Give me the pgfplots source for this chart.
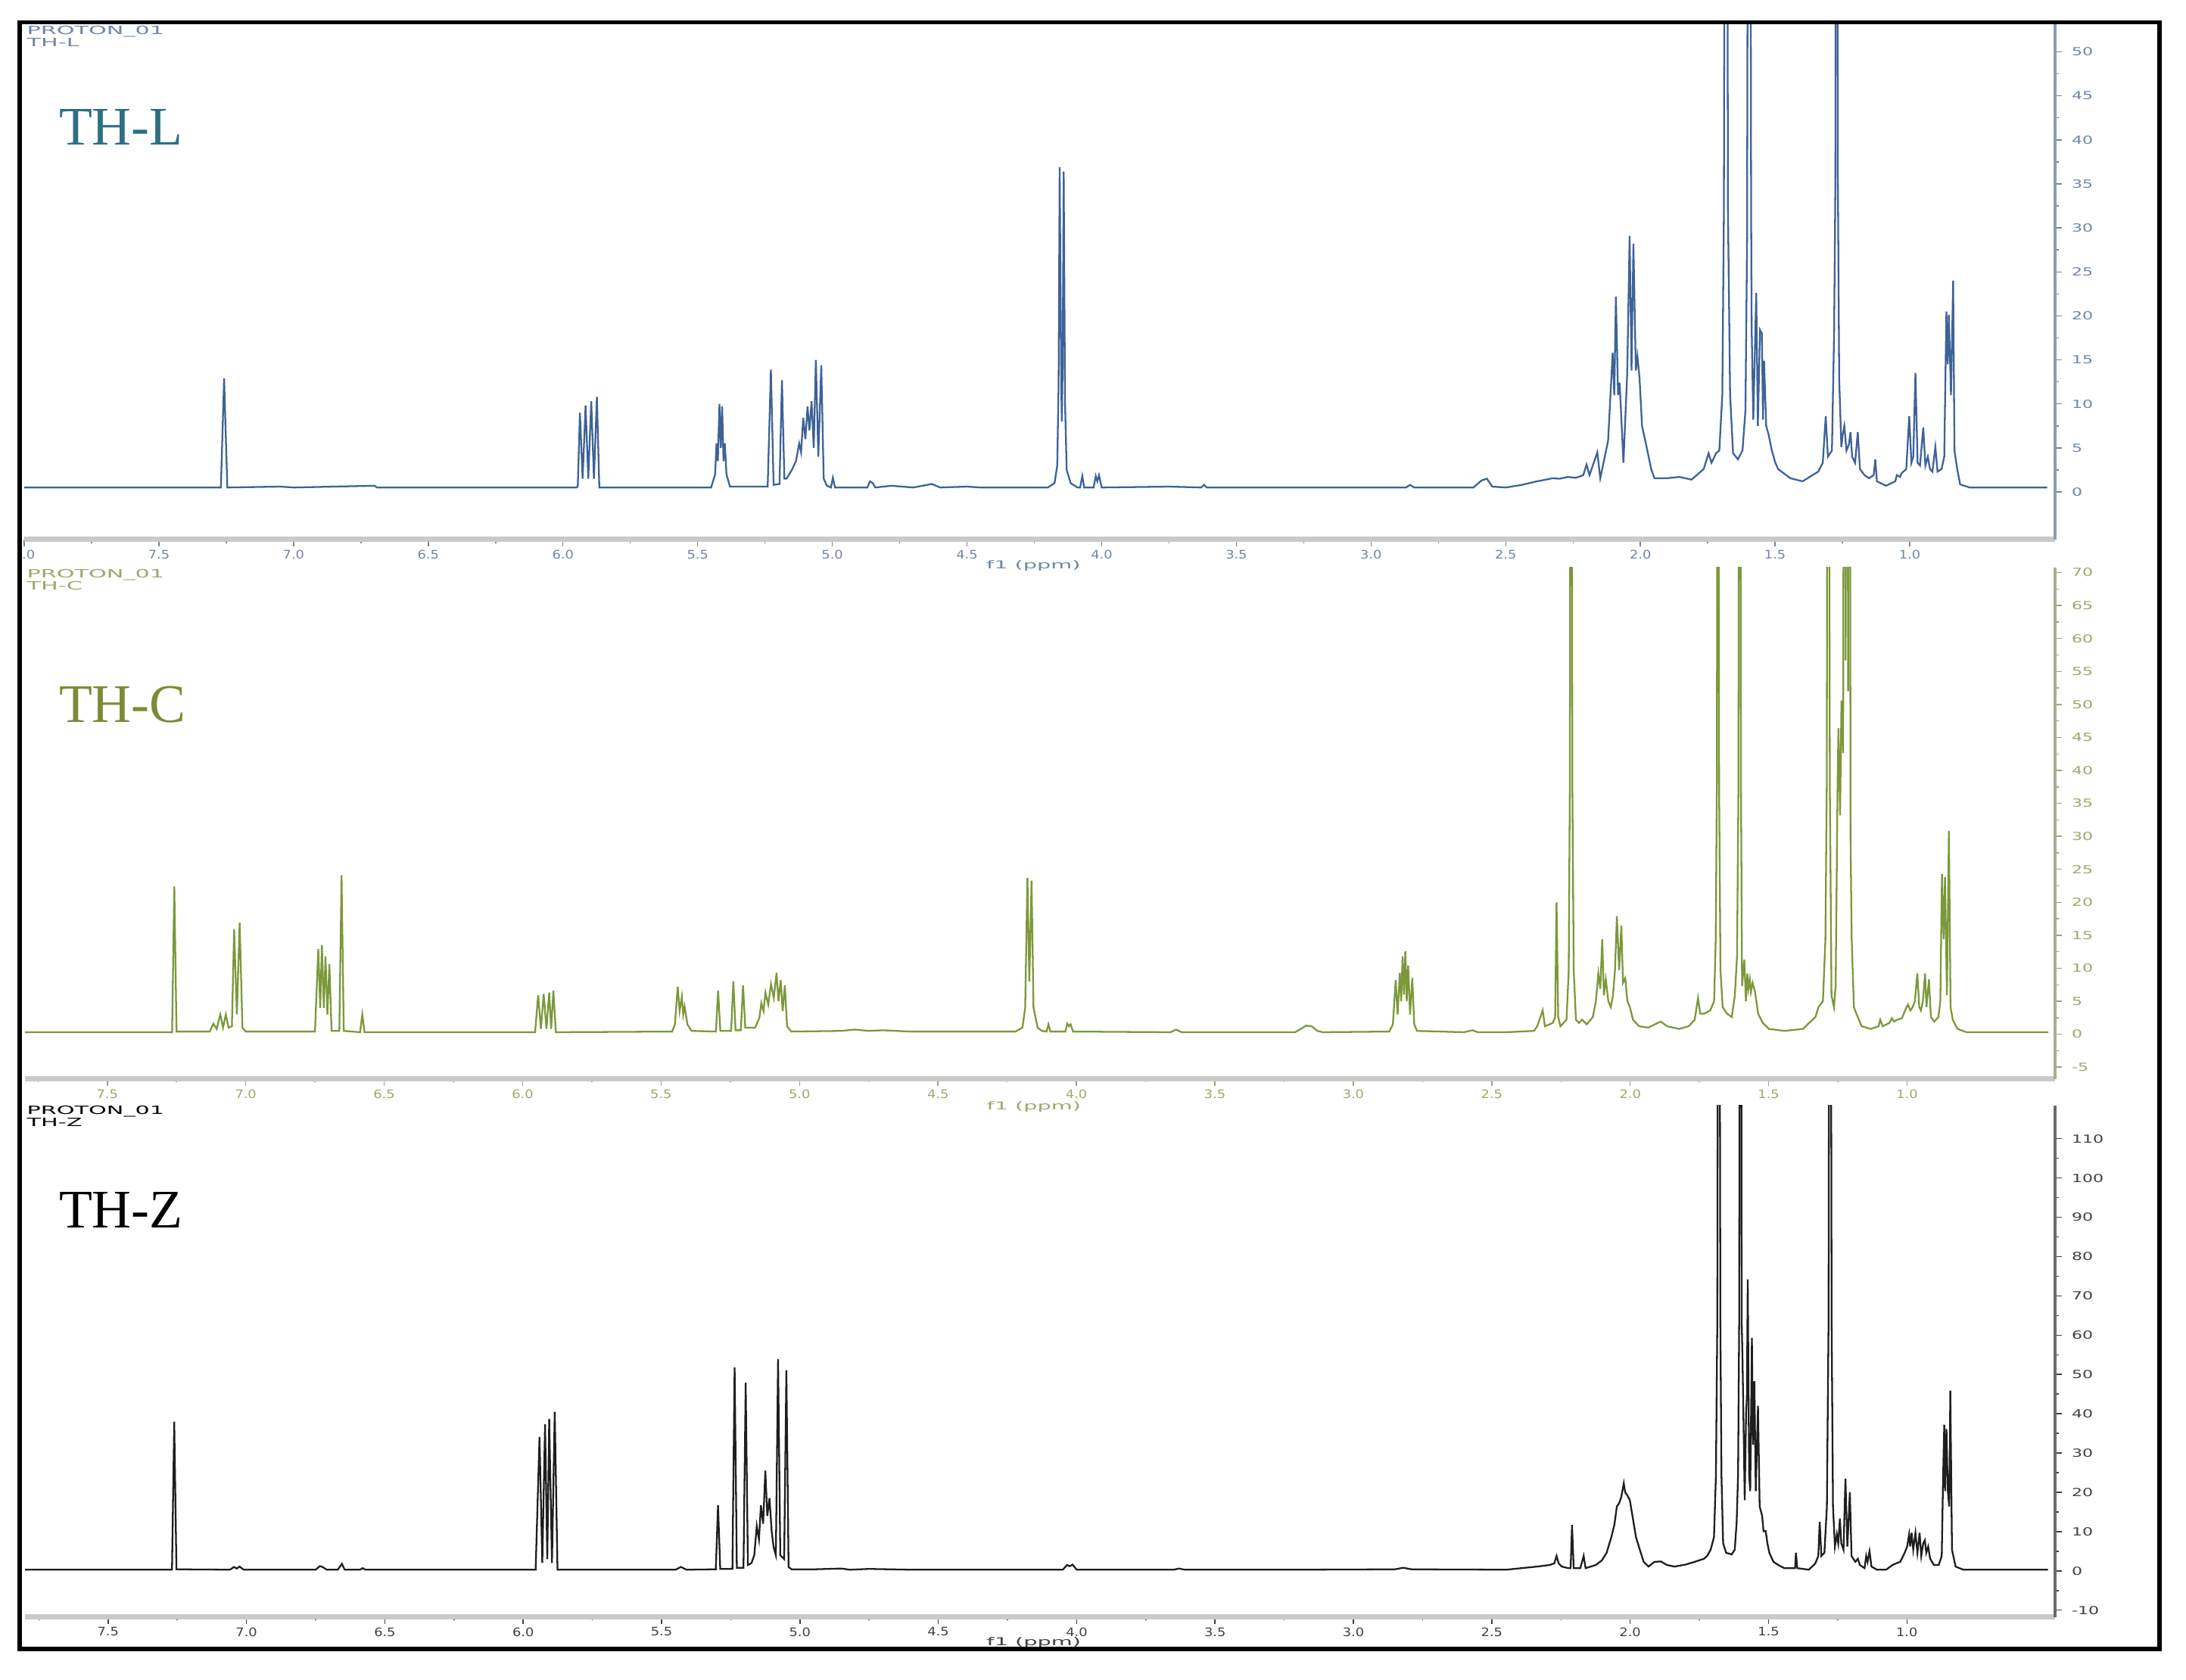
\documentclass[border=0pt]{standalone}
\usepackage{fontspec}
\usepackage{pgfplots}
\pgfplotsset{compat=1.18}
\setmainfont{Liberation Serif}
\newfontfamily\xfont[FakeStretch=1.15]{DejaVu Sans}
\newfontfamily\yfont[FakeStretch=1.5]{DejaVu Sans}
\newfontfamily\hdrfont[FakeStretch=2.0]{DejaVu Sans}

\definecolor{specL}{HTML}{3E6298}
\definecolor{specC}{HTML}{7C983A}
\definecolor{specZ}{HTML}{1E1E1E}
\definecolor{nameL}{HTML}{2D6F85}
\definecolor{nameC}{HTML}{7A8C35}
\definecolor{tickL}{HTML}{6F86A4}
\definecolor{tickC}{HTML}{9EA66E}
\definecolor{tickZ}{HTML}{404040}
\definecolor{axL}{HTML}{8C9CB0}
\definecolor{axC}{HTML}{A9AE94}
\definecolor{axZ}{HTML}{6A6A6A}
\definecolor{xline}{HTML}{CACACA}

\tikzset{ppmlabel/.style={font=\hdrfont\fontsize{3.9}{4.5}\selectfont, anchor=north}}
\pgfplotsset{
  nmr/.style={
    scale only axis, x dir=reverse, clip mode=individual,
    axis x line*=bottom, axis y line*=right,
    tick align=outside,
    major tick length=2.5pt, minor tick length=1.3pt,
    minor x tick num=1, minor y tick num=1,
    xtick={1,1.5,2,2.5,3,3.5,4,4.5,5,5.5,6,6.5,7,7.5,8},
    xticklabel={\pgfmathprintnumber[fixed,fixed zerofill,precision=1,assume math mode=true]{\tick}},
    /pgf/number format/assume math mode=true,
    xticklabel style={font=\xfont\fontsize{4.2}{5}\selectfont, yshift=2.2pt},
    yticklabel style={font=\yfont\fontsize{4}{4.5}\selectfont},
    x axis line style={line width=2pt, color=xline},
    every axis plot/.append style={line width=0.62pt},
  },
}

\begin{document}
\begin{tikzpicture}
\useasboundingbox (0,0) rectangle (784pt,-602.5pt);
\begin{scope}
\clip (7.8pt,-8.8pt) rectangle (773.7pt,-590.7pt);

% ---------------- TH-L ----------------
\begin{axis}[nmr,
  at={(8.7pt,-8.5pt)}, anchor=north west,
  width=728.3pt, height=185pt,
  xmin=0.461, xmax=8.0, ymin=-5.4, ymax=53.2,
  ytick={0,5,...,50},
  y axis line style={line width=1.2pt, color=axL},
  every tick/.style={color=tickL, line width=0.4pt},
  xticklabel style={text=tickL}, yticklabel style={text=tickL},
]
\addplot[specL] coordinates {
(8.0,0.5)(7.60,0.5)(7.270,0.5)(7.258,12.9)(7.246,0.5)(7.05,0.6)(7.0,0.5)(6.70,0.7)(6.69,0.5)(5.95,0.5)
(5.945,0.6)(5.937,9.0)(5.927,1.5)(5.916,9.8)(5.906,1.5)(5.895,10.3)(5.885,1.5)(5.874,10.8)(5.865,0.5)
(5.45,0.5)(5.435,2)(5.430,5.5)(5.425,3.5)(5.419,10)(5.414,5)(5.409,9.7)(5.404,3.5)(5.399,5.5)(5.393,2)(5.38,0.6)
(5.24,0.6)(5.228,13.9)(5.218,0.8)(5.196,0.9)(5.187,12.7)(5.178,1.5)
(5.17,1.5)(5.15,2.5)(5.135,3.5)(5.123,5.5)(5.116,4.5)(5.108,8.4)(5.100,6)(5.092,9.7)(5.085,7)(5.077,10.3)(5.069,5)(5.061,15)(5.052,4)(5.041,14.4)(5.032,1.5)(5.02,0.7)
(5.005,0.5)(4.998,1.6)(4.99,0.5)(4.87,0.5)(4.86,1.2)(4.85,1.0)(4.84,0.5)(4.78,0.7)(4.70,0.5)(4.63,0.9)(4.60,0.5)(4.50,0.6)(4.45,0.5)
(4.20,0.5)(4.175,1)(4.165,3)(4.160,12)(4.156,36.9)(4.150,12)(4.148,8)(4.145,14)(4.141,36.4)(4.136,10)(4.13,2.5)(4.115,1)(4.09,0.5)
(4.08,0.5)(4.072,1.8)(4.065,0.5)(4.03,0.5)(4.022,1.8)(4.016,1.2)(4.010,1.9)(4.0,0.5)
(3.75,0.6)(3.63,0.5)(3.62,0.8)(3.61,0.5)(2.87,0.5)(2.855,0.8)(2.84,0.5)(2.62,0.5)(2.59,1.3)(2.57,1.5)(2.55,0.6)(2.499,0.5)
(2.440,0.8)(2.384,1.2)(2.350,1.4)(2.327,1.55)(2.300,1.5)(2.269,1.7)(2.240,1.6)(2.212,1.9)(2.200,3.1)(2.189,1.9)(2.160,4.5)(2.149,1.55)(2.120,5.8)
(2.103,15.8)(2.097,11)(2.091,22.2)(2.083,11)(2.077,12.4)(2.063,3.3)(2.049,13.5)(2.040,29.1)(2.033,13.8)(2.026,28.2)
(2.017,13.8)(2.011,15.4)(2.003,12.8)(1.994,7.5)(1.977,5.1)(1.960,2.6)(1.948,1.55)(1.902,1.55)(1.856,1.7)(1.810,1.4)(1.765,2.6)
(1.747,4.4)(1.736,3.3)(1.719,4.4)(1.707,4.7)(1.696,11)(1.690,32)(1.682,160)(1.675,32)(1.667,11)(1.656,4.4)(1.638,3.7)
(1.621,4.7)(1.610,9.3)(1.604,28.5)(1.596,160)(1.589,32)(1.587,18.6)(1.581,8.2)(1.570,22.6)(1.564,7.5)(1.556,18.4)
(1.549,18)(1.545,8.2)(1.541,14.9)(1.533,7.5)(1.524,6.5)(1.512,4.7)(1.500,3.4)(1.489,2.6)(1.443,1.55)(1.398,1.2)(1.340,2.3)
(1.323,3.3)(1.312,8.6)(1.304,4)(1.289,4.7)(1.281,18)(1.276,35.6)(1.272,160)(1.267,35.6)(1.262,12.8)(1.254,5.1)
(1.249,6.5)(1.243,7.5)(1.235,4.7)(1.226,5.4)(1.220,6.8)(1.214,4)(1.203,3.3)(1.193,6.8)(1.185,2.6)(1.168,1.9)
(1.151,1.55)(1.134,1.9)(1.128,3.7)(1.122,1.2)(1.088,0.7)(1.054,1.2)(1.048,1.9)(1.036,1.7)(1.031,2.1)(1.013,2.6)
(1.002,8.6)(0.994,3.3)(0.987,4)(0.979,13.5)(0.971,3.3)(0.962,3)(0.950,7.3)(0.942,3)(0.933,4)(0.925,2.6)(0.916,2.3)
(0.905,5.1)(0.897,2.3)(0.882,2.6)(0.872,4)(0.864,20.5)(0.859,14.5)(0.855,20.1)(0.847,11)(0.839,24)(0.834,4.7)
(0.824,2.6)(0.813,0.85)(0.778,0.5)(0.49,0.5)};
\node[ppmlabel, text=tickL, yshift=-4pt] at (rel axis cs:0.497,0) {f1 (ppm)};
\end{axis}

% ---------------- TH-C ----------------
\begin{axis}[nmr,
  at={(9pt,-203.5pt)}, anchor=north west,
  width=728pt, height=183.5pt,
  xmin=0.466, xmax=7.797, ymin=-6.77, ymax=70.8,
  ytick={-5,0,...,70},
  y axis line style={line width=1.2pt, color=axC},
  every tick/.style={color=tickC, line width=0.4pt},
  xticklabel style={text=tickC}, yticklabel style={text=tickC},
]
\addplot[specC] coordinates {
(7.8,0.3)(7.266,0.3)(7.258,22.4)(7.250,0.4)(7.13,0.4)(7.117,1.6)(7.105,0.8)(7.092,3)(7.082,1)(7.072,3)(7.062,1)
(7.05,1.2)(7.042,15.9)(7.032,3)(7.022,16.9)(7.012,1)(7.0,0.4)
(6.75,0.4)(6.738,12.9)(6.731,4)(6.725,13.5)(6.718,4)(6.712,11.8)(6.705,3)(6.698,10.6)(6.69,0.5)
(6.662,0.5)(6.654,24.1)(6.646,0.5)(6.587,0.3)(6.579,3)(6.571,0.3)
(5.955,0.3)(5.944,5.9)(5.934,0.8)(5.924,6.1)(5.914,0.8)(5.904,6.3)(5.897,0.8)(5.889,6.6)(5.88,0.3)
(5.46,0.4)(5.45,1.5)(5.440,7.2)(5.433,3.5)(5.425,5.7)(5.420,3)(5.415,4.2)(5.405,1.5)(5.39,0.5)
(5.302,0.4)(5.294,6.6)(5.286,0.5)(5.247,0.5)(5.239,8)(5.231,0.6)(5.212,0.6)(5.204,7.4)(5.196,1)
(5.16,1)(5.145,2.5)(5.138,4.7)(5.130,3.5)(5.123,6.3)(5.113,4.5)(5.103,7.6)(5.093,5.5)(5.083,9.3)(5.076,5)(5.068,8.2)(5.061,3.5)(5.053,7.4)(5.045,1.2)(5.03,0.4)
(4.85,0.5)(4.8,0.7)(4.75,0.5)(4.7,0.6)(4.6,0.4)
(4.22,0.4)(4.195,1)(4.185,4)(4.177,23.7)(4.170,8)(4.162,23.3)(4.155,4)(4.14,1)(4.125,0.5)
(4.108,0.4)(4.101,1.5)(4.094,0.4)(4.04,0.4)(4.033,1.6)(4.027,1.2)(4.021,1.5)(4.012,0.4)
(3.66,0.3)(3.64,0.7)(3.62,0.3)(3.21,0.3)(3.19,0.8)(3.17,1.3)(3.15,1.2)(3.13,0.5)(3.11,0.3)
(2.87,0.4)(2.857,1.5)(2.847,8.2)(2.840,3)(2.832,9.3)(2.827,5)(2.822,11.8)(2.817,6)(2.812,12.6)(2.807,5)(2.802,10.4)(2.795,3)(2.787,8.5)(2.780,1.5)(2.77,0.5)
(2.6,0.3)(2.57,0.6)(2.55,0.3)(2.448,0.3)
(2.347,0.5)(2.336,1.2)(2.316,3.6)(2.308,1.2)(2.280,1.7)(2.271,2.6)(2.266,20)(2.260,2.6)(2.252,1.2)(2.230,2.2)
(2.222,9.7)(2.218,37.9)(2.213,180)(2.209,37.9)(2.204,9.7)(2.196,2.2)(2.185,1.7)(2.174,2.2)(2.157,1.5)(2.135,2.6)
(2.124,5)(2.115,9.2)(2.108,6.9)(2.101,14.4)(2.095,5.9)(2.088,8.3)(2.079,5)(2.070,4.1)(2.062,5.9)(2.055,9.7)
(2.048,17.9)(2.040,9.7)(2.032,16.5)(2.026,7.8)(2.018,8.5)(2.010,5)(2.001,4.1)(1.990,2.2)(1.968,1.2)(1.934,1)
(1.901,1.7)(1.889,1.9)(1.867,1.2)(1.823,0.8)(1.789,1.2)(1.767,2.2)(1.755,5.5)(1.747,3.1)(1.733,3.1)(1.711,3.6)
(1.697,5)(1.691,14.4)(1.687,37.9)(1.683,180)(1.679,37.9)(1.674,9.7)(1.666,4.1)(1.650,3.1)(1.633,2.6)(1.622,5.9)
(1.614,12)(1.609,37.9)(1.605,180)(1.600,37.9)(1.596,7.3)(1.588,11.3)(1.582,5)(1.577,9.2)(1.573,6.9)(1.568,8.3)
(1.564,6.4)(1.558,7.8)(1.549,6.4)(1.538,3.1)(1.521,1.7)(1.499,0.8)(1.443,0.5)(1.376,0.8)(1.354,1.7)(1.331,2.6)
(1.320,4.1)(1.304,5)(1.295,14.4)(1.290,37.9)(1.285,180)(1.279,37.9)(1.273,5.9)(1.264,4.1)(1.258,7.3)(1.251,37.9)
(1.248,46.4)(1.242,33.2)(1.237,50.6)(1.231,42.6)(1.226,180)(1.222,56.7)(1.218,180)(1.213,52)(1.209,180)(1.204,28.5)
(1.200,14.4)(1.192,4.1)(1.181,2.9)(1.164,1.2)(1.131,0.8)(1.103,1.2)(1.097,2.2)(1.088,1.2)(1.064,1.7)(1.055,2.4)
(1.047,1.9)(1.036,2.2)(1.019,2.4)(1.002,4.1)(0.997,4.5)(0.988,3.6)(0.980,4.1)(0.972,5)(0.963,9.2)(0.956,4.1)
(0.950,3.6)(0.943,5)(0.935,9.2)(0.930,4.1)(0.921,8.3)(0.914,2.6)(0.902,1.9)(0.887,2.6)(0.880,5)(0.874,24.3)
(0.868,14.4)(0.863,23.8)(0.856,5.9)(0.849,30.8)(0.843,4.1)(0.835,2.2)(0.818,0.8)(0.785,0.3)(0.49,0.3)};
\node[ppmlabel, text=tickC, yshift=-4.5pt] at (rel axis cs:0.497,0) {f1 (ppm)};
\end{axis}

% ---------------- TH-Z ----------------
\begin{axis}[nmr,
  at={(9pt,-396.5pt)}, anchor=north west,
  width=728pt, height=183.5pt,
  xmin=0.465, xmax=7.80, ymin=-11.7, ymax=118.5,
  ytick={-10,0,...,110},
  y axis line style={line width=1.2pt, color=axZ},
  every tick/.style={color=tickZ, line width=0.4pt},
  xticklabel style={text=tickZ}, yticklabel style={text=tickZ},
]
\addplot[specZ] coordinates {
(7.8,0.3)(7.269,0.3)(7.261,38)(7.253,0.4)(7.06,0.3)(7.045,1)(7.035,0.6)(7.025,1.1)(7.01,0.3)
(6.75,0.3)(6.735,1.2)(6.725,1)(6.71,0.3)(6.67,0.3)(6.655,1.8)(6.645,0.3)(6.59,0.3)(6.58,0.7)(6.57,0.3)
(5.955,0.3)(5.941,34.1)(5.931,2)(5.921,37.3)(5.913,3)(5.906,38.7)(5.896,2)(5.886,40.5)(5.876,0.3)
(5.45,0.3)(5.43,1)(5.41,0.3)(5.304,0.4)(5.296,16.7)(5.288,0.5)(5.244,0.5)(5.236,51.8)(5.228,0.8)
(5.204,0.8)(5.196,47.9)(5.188,1.5)(5.175,2)(5.165,4)(5.156,11.4)(5.148,8)(5.141,16.7)(5.133,12)(5.125,25.5)
(5.118,14)(5.110,18.5)(5.102,10)(5.095,6)(5.087,4)(5.079,53.9)(5.071,4)(5.057,3)(5.049,51.1)(5.041,1)(5.03,0.4)
(4.95,0.4)(4.85,0.6)(4.82,0.3)(4.75,0.5)(4.6,0.3)(4.05,0.3)(4.035,1.5)(4.025,1.2)(4.015,1.6)(4.0,0.3)
(3.65,0.3)(3.63,0.6)(3.61,0.3)(3.2,0.3)(2.85,0.4)(2.82,0.8)(2.79,0.4)(2.448,0.3)
(2.336,1.1)(2.291,1.5)(2.274,1.9)(2.266,3.8)(2.258,1.9)(2.247,1.1)(2.224,0.7)(2.215,0.7)(2.210,11.7)(2.204,0.7)
(2.180,0.7)(2.168,3.8)(2.161,0.7)(2.124,1.5)(2.102,2.7)(2.085,4.6)(2.068,8.6)(2.057,11.7)(2.048,16.4)(2.040,17.2)
(2.032,18.8)(2.023,22.3)(2.018,20)(2.010,19.2)(2.001,18)(1.990,13.3)(1.979,8.6)(1.965,5.4)(1.951,2.3)(1.934,1.1)
(1.912,2.3)(1.889,2.4)(1.867,1.5)(1.839,1.1)(1.800,1.6)(1.767,2.3)(1.733,3.1)(1.722,3.8)(1.709,5.4)(1.697,8.6)
(1.690,24.3)(1.685,63.6)(1.680,300)(1.674,63.6)(1.670,24.3)(1.664,7)(1.653,4.6)(1.633,4.2)(1.622,5.4)(1.615,12.5)
(1.610,24.3)(1.606,63.6)(1.601,300)(1.597,63.6)(1.594,54.2)(1.589,32.1)(1.586,18)(1.581,40)(1.578,44.7)(1.575,74.2)
(1.570,24.3)(1.566,20.3)(1.560,59.3)(1.556,32.1)(1.551,48.3)(1.546,20.3)(1.538,42)(1.532,16.4)(1.523,14)(1.518,10.1)
(1.510,10.1)(1.504,7)(1.497,4.6)(1.482,2.3)(1.465,1.5)(1.443,0.7)(1.404,0.7)(1.401,4.6)(1.396,0.7)(1.354,0.3)
(1.331,1.9)(1.320,3.8)(1.315,12.5)(1.309,3.8)(1.298,4.6)(1.289,16.4)(1.283,63.6)(1.278,300)(1.272,63.6)(1.267,16.4)
(1.260,6.2)(1.253,9.3)(1.248,7)(1.242,13.3)(1.237,7)(1.229,5.4)(1.222,23.5)(1.215,6.2)(1.206,20)(1.200,3.8)
(1.186,2.3)(1.177,3.1)(1.170,1.5)(1.153,0.7)(1.147,3.8)(1.142,2.3)(1.135,5)(1.128,1.1)(1.108,0.3)(1.075,0.3)
(1.052,1.5)(1.039,1.9)(1.024,2.3)(1.008,4.6)(0.999,6.2)(0.992,9.3)(0.988,6.2)(0.983,9.7)(0.977,5.4)(0.969,9.7)
(0.962,4.6)(0.954,9.7)(0.948,3.8)(0.941,7)(0.935,7.8)(0.930,4.6)(0.923,6.2)(0.916,3.1)(0.902,1.5)(0.885,1.5)
(0.874,3.8)(0.869,24.3)(0.865,37.2)(0.862,20.3)(0.857,36.1)(0.852,20.3)(0.847,16.4)(0.843,45.9)(0.837,5.4)
(0.824,1.1)(0.796,0.3)(0.49,0.3)};
\node[ppmlabel, text=tickZ, yshift=-3.8pt] at (rel axis cs:0.497,0) {f1 (ppm)};
\end{axis}

% headers
\node[anchor=north west, align=left, inner sep=0pt, text=tickL,
  font=\hdrfont\fontsize{4.1}{4.3}\selectfont] at (9.5pt,-9.2pt) {PROTON\_01\\TH-L};
\node[anchor=north west, align=left, inner sep=0pt, text=tickC,
  font=\hdrfont\fontsize{4.1}{4.3}\selectfont] at (9.5pt,-204pt) {PROTON\_01\\TH-C};
\node[anchor=north west, align=left, inner sep=0pt, text=black,
  font=\hdrfont\fontsize{4.1}{4.3}\selectfont] at (9.5pt,-396.6pt) {PROTON\_01\\TH-Z};

\node[anchor=base west, inner sep=0pt, text=nameL, font=\fontsize{19.5}{20}\selectfont] at (21pt,-52pt) {TH-L};
\node[anchor=base west, inner sep=0pt, text=nameC, font=\fontsize{19.5}{20}\selectfont] at (21pt,-259pt) {TH-C};
\node[anchor=base west, inner sep=0pt, text=black, font=\fontsize{19.5}{20}\selectfont] at (21pt,-440.5pt) {TH-Z};
\end{scope}

\draw[line width=1.6pt, black] (7pt,-8pt) rectangle (774.5pt,-591.5pt);
\end{tikzpicture}
\end{document}
